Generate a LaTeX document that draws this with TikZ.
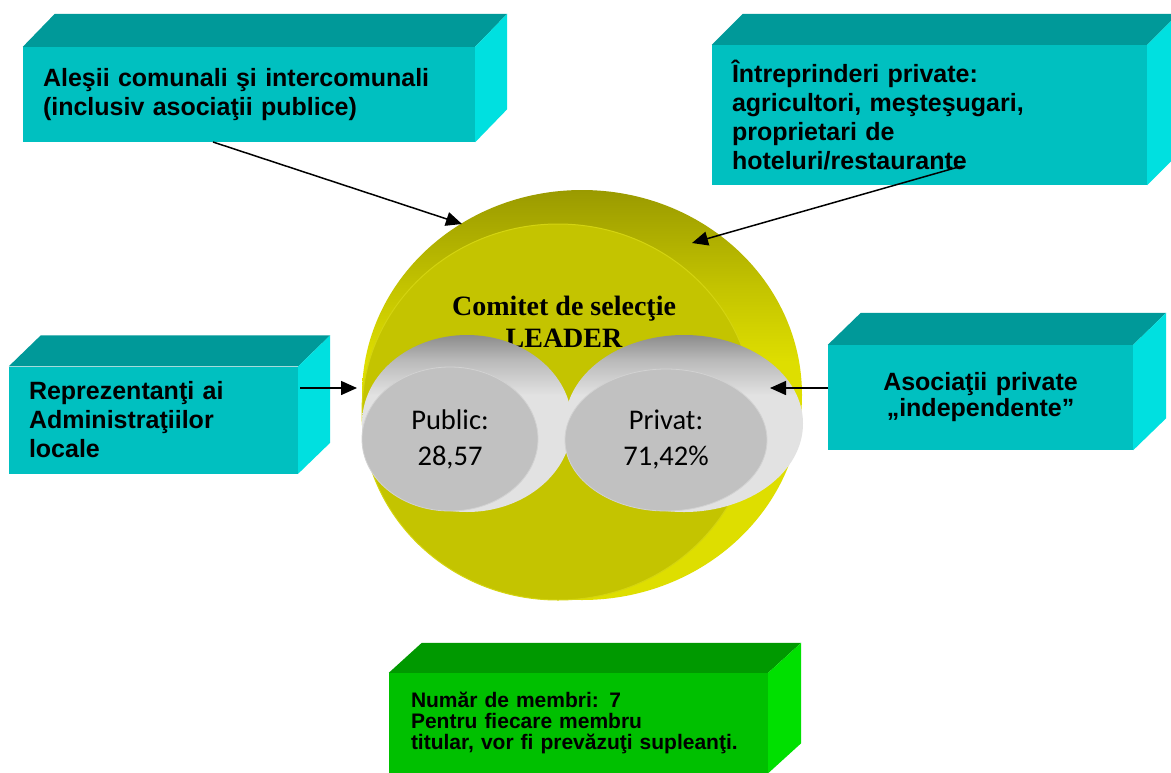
\documentclass[tikz,border=0pt]{standalone}
\usepackage{fontspec}
\setmainfont{Liberation Sans}
\newfontfamily\serifbold{Liberation Serif}
\newfontfamily\calibfont{Carlito}
\usetikzlibrary{arrows.meta,calc,shapes.geometric}
\definecolor{tealF}{RGB}{0,192,192}
\definecolor{tealT}{RGB}{0,153,153}
\definecolor{tealR}{RGB}{0,224,224}
\definecolor{grnF}{RGB}{0,192,0}
\definecolor{grnT}{RGB}{0,153,0}
\definecolor{grnR}{RGB}{0,224,0}
\definecolor{yelF}{RGB}{196,196,0}
\definecolor{yelD}{RGB}{154,154,0}
\definecolor{yelM}{RGB}{196,196,0}
\definecolor{yelL}{RGB}{222,222,0}
\definecolor{yelE}{RGB}{212,212,16}
\definecolor{gryF}{RGB}{193,193,193}
\definecolor{gryD}{RGB}{140,140,140}
\definecolor{gryM}{RGB}{185,185,185}
\definecolor{gryL}{RGB}{226,226,226}
\definecolor{gryE}{RGB}{210,210,210}
\pgfdeclareverticalshading{yrimshade}{100bp}{color(0bp)=(yelL); color(54bp)=(yelL); color(63bp)=(yelM); color(75bp)=(yelD); color(100bp)=(yelD)}
\pgfdeclareverticalshading{grimshade}{100bp}{color(0bp)=(gryL); color(58bp)=(gryL); color(68bp)=(gryM); color(75bp)=(gryD); color(100bp)=(gryD)}
\newcommand\drawcubefaces[4]{%
  \fill[#3] (#1.north west) -- ++#2 -- ($(#1.north east)+#2$) -- (#1.north east) -- cycle;
  \fill[#4] (#1.north east) -- ++#2 -- ($(#1.south east)+#2$) -- (#1.south east) -- cycle;}
\begin{document}
\begin{tikzpicture}[x=1pt,y=-1pt,
  boxtext/.style={rectangle, inner ysep=0pt, inner xsep=20pt, align=left,
    font=\fontsize{25}{29}\selectfont\bfseries},
  cylfront/.style={ellipse, fill=gryF, draw=gryE, line width=0.8pt, inner sep=0pt, align=center,
    font=\calibfont\fontsize{28.5}{36}\selectfont},
  cylside/.style={shading=grimshade},
  arr/.style={line width=1.5pt, -{Triangle[length=16pt,width=14pt]}}]
\useasboundingbox (0,0) rectangle (1171,772);
\fill[white] (0,0) rectangle (1171,772);

% boxes
\node[boxtext, fill=tealF, minimum height=95, text width=412] (box1) at (249,94.5)
  {Aleşii comunali şi intercomunali\\(inclusiv asociaţii publice)};
\drawcubefaces{box1}{(32,-33)}{tealT}{tealR}
\node[boxtext, fill=tealF, minimum height=140, text width=395] (box2) at (929.5,115)
  {Întreprinderi private:\\agricultori, meşteşugari,\\proprietari de\\hoteluri/restaurante};
\drawcubefaces{box2}{(31,-31)}{tealT}{tealR}
\node[boxtext, fill=tealF, minimum height=107, text width=249] (box3) at (153.5,420)
  {Reprezentanţi ai\\Administraţiilor\\locale};
\drawcubefaces{box3}{(32,-31)}{tealT}{tealR}
\node[boxtext, fill=tealF, minimum height=105, text width=265, align=center,
  font=\fontsize{25}{26}\selectfont\bfseries] (box4) at (980.5,397.5)
  {Asociaţii private\\„independente”};
\drawcubefaces{box4}{(33,-32)}{tealT}{tealR}
\node[boxtext, fill=grnF, minimum height=100, text width=335, inner xsep=22pt,
  font=\fontsize{21}{21}\selectfont\bfseries] (box5) at (578.5,723)
  {Număr de membri: 7\\Pentru fiecare membru\\titular, vor fi prevăzuţi supleanţi.};
\drawcubefaces{box5}{(33,-30)}{grnT}{grnR}

% disk
\shade[shading=yrimshade] (582,395) ellipse [x radius=220, y radius=205];
\node[ellipse, fill=yelF, draw=yelE, line width=1pt, minimum width=392, minimum height=376, inner sep=0pt] (disk) at (558,412) {};
\node[font=\serifbold\bfseries\fontsize{28}{32}\selectfont, align=center] (title) at (564,322)
  {Comitet de selecţie\\LEADER};

% cylinders
\shade[cylside] (467,423.5) ellipse [x radius=105, y radius=88.5];
\node[cylfront, minimum width=176, minimum height=144] (pub) at (450,439) {Public:\\28,57};
\shade[cylside] (684,423.5) ellipse [x radius=119, y radius=88.5];
\node[cylfront, minimum width=202, minimum height=142] (priv) at (666,440) {Privat:\\71,42\%};

% connectors
\coordinate (a1s) at (213,142); \coordinate (a1e) at (462,224);
\coordinate (a2s) at (962,166); \coordinate (a2e) at (692,243);
\coordinate (a3s) at (300,388); \coordinate (a3e) at (357,388);
\coordinate (a4s) at (828,388); \coordinate (a4e) at (770,388);
\draw[arr] (a1s) -- (a1e);
\draw[arr] (a2s) -- (a2e);
\draw[arr] (a3s) -- (a3e);
\draw[arr] (a4s) -- (a4e);
\end{tikzpicture}
\end{document}
